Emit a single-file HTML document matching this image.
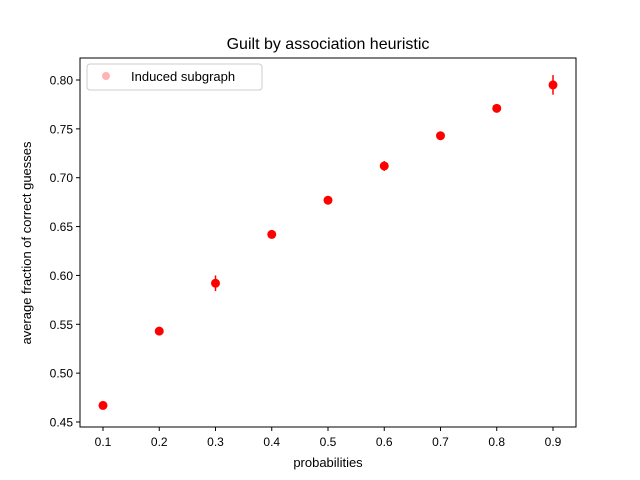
<!DOCTYPE html>
<html><head><meta charset="utf-8"><style>
html,body{margin:0;padding:0;background:#fff;}
svg{display:block;font-family:"Liberation Sans","DejaVu Sans",sans-serif;}
</style></head><body>
<svg id="chart" width="640" height="480">
<rect x="0" y="0" width="640" height="480" fill="#fff"/>
<text x="328" y="49" font-size="16" text-anchor="middle">Guilt by association heuristic</text>
<g id="axes"></g>
<g id="marks"></g>
<rect x="80" y="58" width="496" height="369" fill="none" stroke="#000" stroke-width="1"/>
<text x="328" y="467" font-size="13" text-anchor="middle">probabilities</text>
<text transform="translate(31,243) rotate(-90)" font-size="13" text-anchor="middle">average fraction of correct guesses</text>
<g>
<rect x="87" y="64" width="175" height="26" rx="3" fill="#fff" stroke="#ccc"/>
<circle cx="106" cy="76" r="4" fill="#ffb3b3"/>
<text x="131" y="81" font-size="13">Induced subgraph</text>
</g>
</svg>
<script>
const probs = [0.1,0.2,0.3,0.4,0.5,0.6,0.7,0.8,0.9];
const means = [0.467,0.543,0.592,0.642,0.677,0.712,0.743,0.771,0.795];
const errs = [0.004,0.003,0.008,0.003,0.003,0.005,0.004,0.003,0.010];
const xTicks = [0.1,0.2,0.3,0.4,0.5,0.6,0.7,0.8,0.9];
const yTicks = [0.45,0.50,0.55,0.60,0.65,0.70,0.75,0.80];
const NS='http://www.w3.org/2000/svg';
function xs(v){return 103+(v-0.1)/0.8*450;}
function ys(v){return 422-(v-0.45)/0.35*342;}
const axes=document.getElementById('axes'), marks=document.getElementById('marks');
function mk(t,a,p){const e=document.createElementNS(NS,t);for(const k in a)e.setAttribute(k,a[k]);p.appendChild(e);return e;}
xTicks.forEach(v=>{
  const l=mk('line',{x1:xs(v),x2:xs(v),y1:427,y2:431,stroke:'#000'},axes);
  
  
  const t=mk('text',{x:xs(v),y:446,'font-size':12,'text-anchor':'middle'},axes);
  t.textContent=v.toFixed(1);
  
  
});
yTicks.forEach(v=>{
  const l=mk('line',{x1:76,x2:80,y1:ys(v),y2:ys(v),stroke:'#000'},axes);
  
  
  const t=mk('text',{x:73,y:ys(v)+4.5,'font-size':12,'text-anchor':'end'},axes);
  t.textContent=v.toFixed(2);
  
  
});
probs.forEach((p,i)=>{
  const e=mk('line',{x1:xs(p),x2:xs(p),y1:ys(means[i]-errs[i]),y2:ys(means[i]+errs[i]),stroke:'#ff0000','stroke-width':1.5},marks);
  
  
  const c=mk('circle',{cx:xs(p),cy:ys(means[i]),r:4.5,fill:'#ff0000'},marks);
  
  
});
</script>
</body></html>
